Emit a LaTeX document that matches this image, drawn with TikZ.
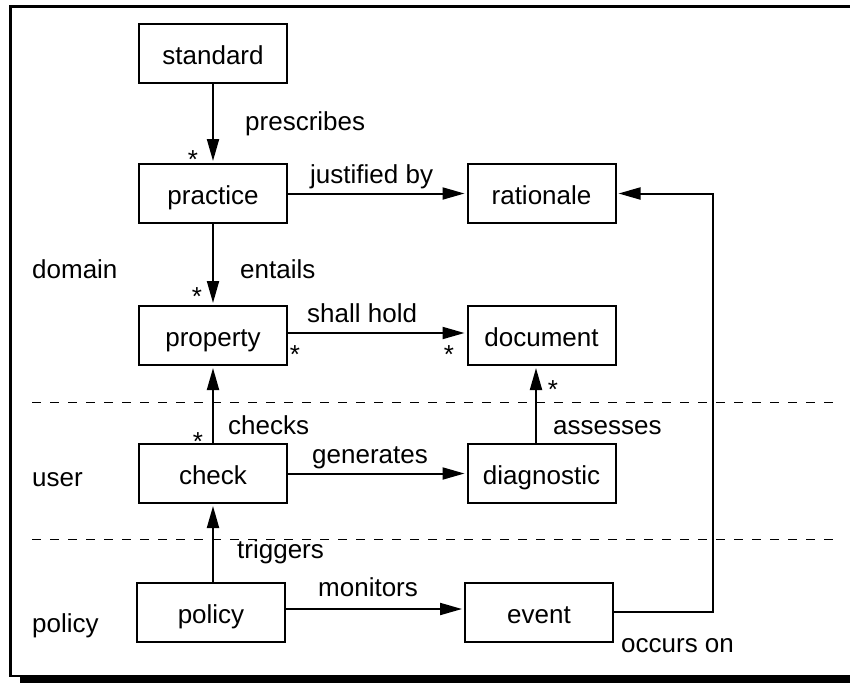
\documentclass[tikz,border=0pt]{standalone}
\usepackage{fontspec}
\setmainfont{Liberation Sans}
\usetikzlibrary{arrows.meta}
\begin{document}
\begin{tikzpicture}[x=1pt,y=-1pt,
  box/.style={draw, line width=2pt, minimum width=148pt, minimum height=59pt, inner sep=0pt,
    font=\fontsize{26}{30}\selectfont, text height=24pt, text depth=2pt},
  lbl/.style={font=\fontsize{26}{30}\selectfont, inner sep=0pt, anchor=base west},
  star/.style={font=\fontsize{26}{30}\selectfont, inner sep=0pt, anchor=base},
  conn/.style={line width=2pt, -{Triangle[length=22pt,width=12pt]}, shorten >=2pt},
  sepline/.style={dash pattern=on 9pt off 9pt, line width=1pt}]
\useasboundingbox (0,0) rectangle (850,683);
% frame
\fill (20,675) rectangle (850,683);
\draw[line width=2.2pt] (850,6.5) -- (10.5,6.5) -- (10.5,676) -- (850,676);
% separators
\draw[sepline] (32,402) -- (836,402);
\draw[sepline] (32,539) -- (836,539);
% boxes
\node[box] (standard)   at (213,53.5)  {standard};
\node[box] (practice)   at (213,193.5) {practice};
\node[box] (property)   at (213,335.5) {property};
\node[box] (check)      at (213,473.5) {check};
\node[box] (policy)     at (211,612)   {policy};
\node[box] (rationale)  at (541.5,193.5) {rationale};
\node[box] (document)   at (541.5,335.5) {document};
\node[box] (diagnostic) at (541.5,473.5) {diagnostic};
\node[box] (event)      at (539,612)   {event};
% connectors
\draw[conn] (standard) -- (practice);
\draw[conn] (practice) -- (rationale);
\draw[conn] (practice) -- (property);
\draw[conn] ([yshift=2.5pt]property.east) -- ([yshift=2.5pt]document.west);
\draw[conn] (check) -- (property);
\draw[conn] (check) -- (diagnostic);
\draw[conn] ([xshift=-5.5pt]diagnostic.north) -- ([xshift=-5.5pt]document.south);
\draw[conn] (check.south |- policy.north) -- (check.south);
\draw[conn] ([yshift=3pt]policy.east) -- ([yshift=3pt]event.west);
\coordinate (bend) at (713,400);
\draw[conn] (event.east) -- (event.east -| bend) -- (bend |- rationale.east) -- (rationale.east);
% edge labels
\node[lbl] (l1) at (245,130) {prescribes};
\node[lbl] (l2) at (310,183) {justified by};
\node[lbl] (l3) at (240,278) {entails};
\node[lbl] (l4) at (307,322) {shall hold};
\node[lbl] (l5) at (228,434) {checks};
\node[lbl] (l6) at (312,463) {generates};
\node[lbl] (l7) at (553,434) {assesses};
\node[lbl] (l8) at (237,558) {triggers};
\node[lbl] (l9) at (318,596) {monitors};
\node[lbl] (l10) at (621,652) {occurs on};
% layer labels
\node[lbl] (domain) at (32,278) {domain};
\node[lbl] (user) at (32,486) {user};
\node[lbl] (pol) at (32,632) {policy};
% multiplicities
\node[star] (s1) at (193,168) {*};
\node[star] (s2) at (197,305) {*};
\node[star] (s3) at (295,363) {*};
\node[star] (s4) at (449,363) {*};
\node[star] (s5) at (553,398) {*};
\node[star] (s6) at (198,450) {*};
\end{tikzpicture}
\end{document}
